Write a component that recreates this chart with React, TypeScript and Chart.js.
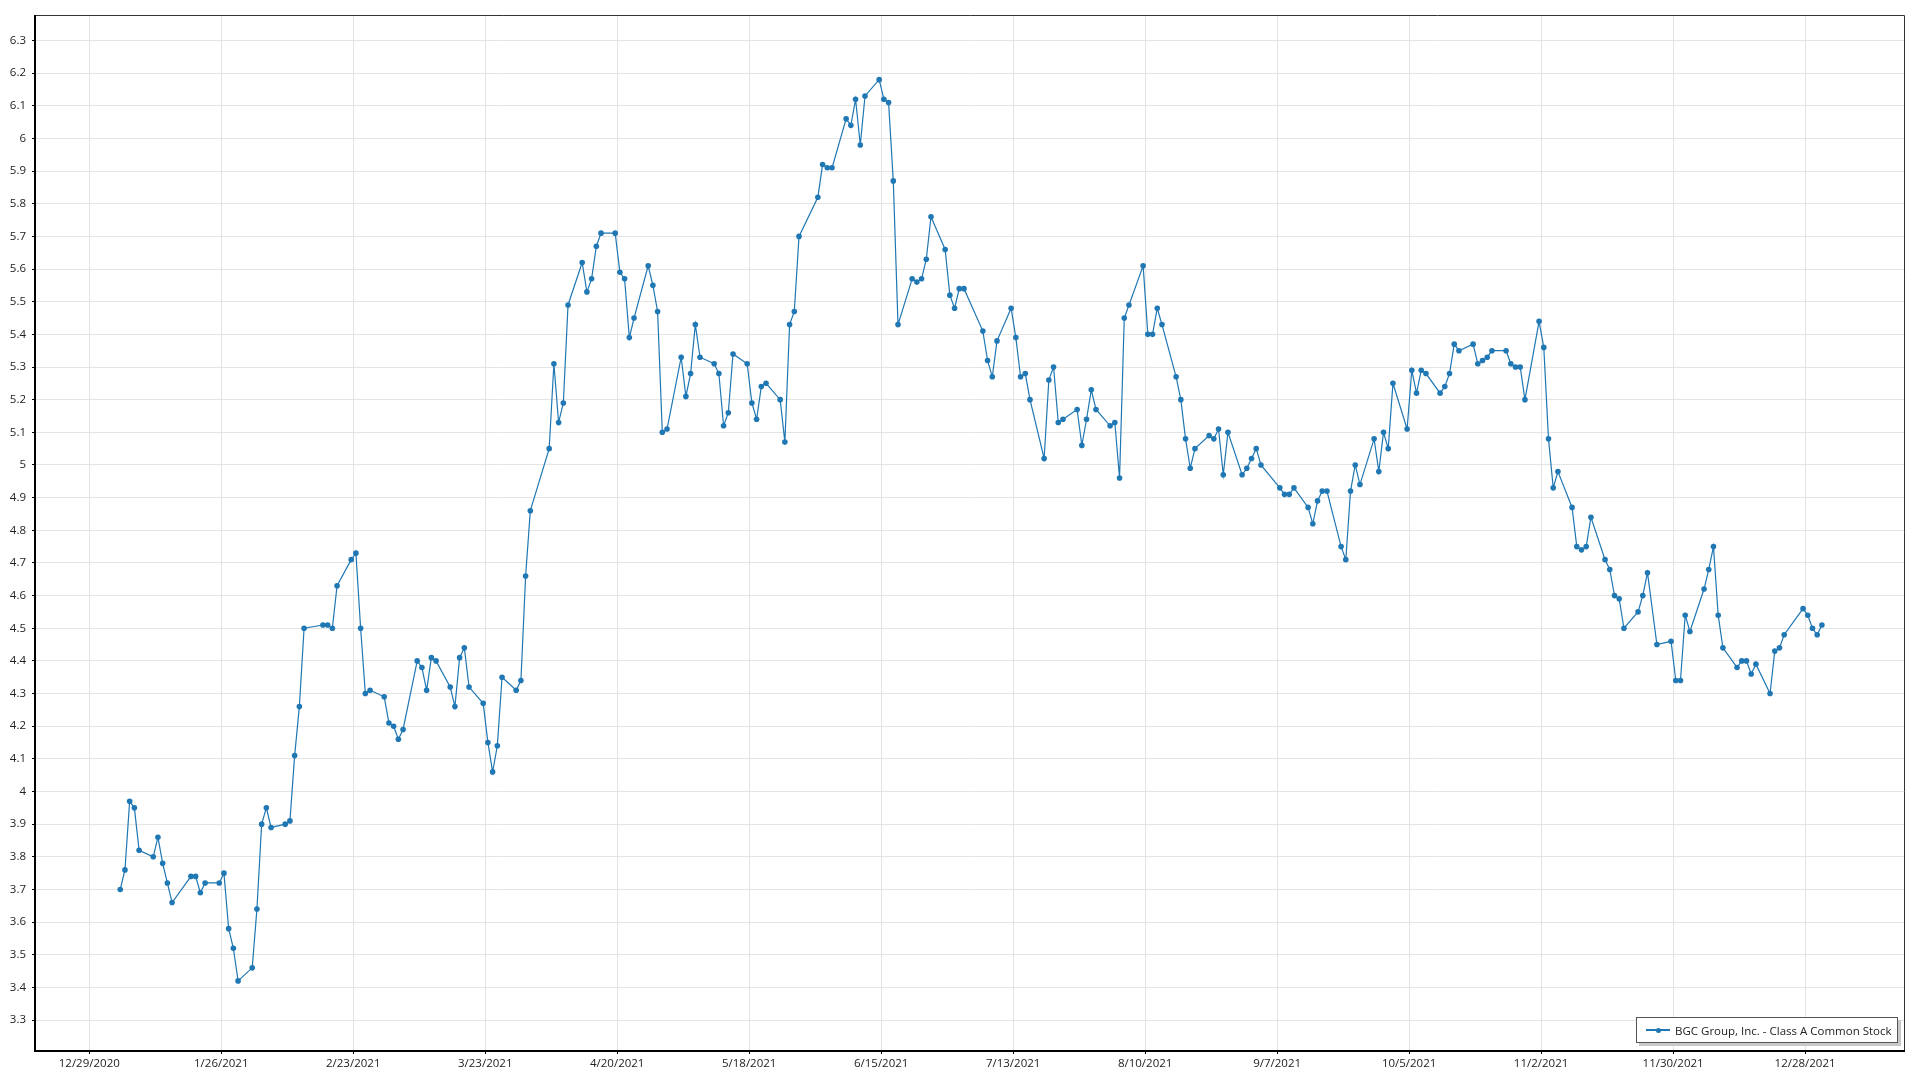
import React, { useEffect, useRef } from "react";
import { Chart, registerables } from "chart.js";

Chart.register(...registerables);

// Trading days of 2021 (day of month), per month
const janDays = [4, 5, 6, 7, 8, 11, 12, 13, 14, 15, 19, 20, 21, 22, 25, 26, 27, 28, 29];
const febDays = [1, 2, 3, 4, 5, 8, 9, 10, 11, 12, 16, 17, 18, 19, 22, 23, 24, 25, 26];
const marDays = [1, 2, 3, 4, 5, 8, 9, 10, 11, 12, 15, 16, 17, 18, 19, 22, 23, 24, 25, 26, 29, 30, 31];
const aprDays = [1, 5, 6, 7, 8, 9, 12, 13, 14, 15, 16, 19, 20, 21, 22, 23, 26, 27, 28, 29, 30];
const mayDays = [3, 4, 5, 6, 7, 10, 11, 12, 13, 14, 17, 18, 19, 20, 21, 24, 25, 26, 27, 28];
const junDays = [1, 2, 3, 4, 7, 8, 9, 10, 11, 14, 15, 16, 17, 18, 21, 22, 23, 24, 25, 28, 29, 30];
const julDays = [1, 2, 6, 7, 8, 9, 12, 13, 14, 15, 16, 19, 20, 21, 22, 23, 26, 27, 28, 29, 30];
const augDays = [2, 3, 4, 5, 6, 9, 10, 11, 12, 13, 16, 17, 18, 19, 20, 23, 24, 25, 26, 27, 30, 31];
const sepDays = [1, 2, 3, 7, 8, 9, 10, 13, 14, 15, 16, 17, 20, 21, 22, 23, 24, 27, 28, 29, 30];
const octDays = [1, 4, 5, 6, 7, 8, 11, 12, 13, 14, 15, 18, 19, 20, 21, 22, 25, 26, 27, 28, 29];
const novDays = [1, 2, 3, 4, 5, 8, 9, 10, 11, 12, 15, 16, 17, 18, 19, 22, 23, 24, 26, 29, 30];
const decDays = [1, 2, 3, 6, 7, 8, 9, 10, 13, 14, 15, 16, 17, 20, 21, 22, 23, 27, 28, 29, 30, 31];

// Closing prices, per month
const janClose = [3.70, 3.76, 3.97, 3.95, 3.82, 3.80, 3.86, 3.78, 3.72, 3.66, 3.74, 3.74, 3.69, 3.72, 3.72, 3.75, 3.58, 3.52, 3.42];
const febClose = [3.46, 3.64, 3.90, 3.95, 3.89, 3.90, 3.91, 4.11, 4.26, 4.50, 4.51, 4.51, 4.50, 4.63, 4.71, 4.73, 4.50, 4.30, 4.31];
const marClose = [4.29, 4.21, 4.20, 4.16, 4.19, 4.40, 4.38, 4.31, 4.41, 4.40, 4.32, 4.26, 4.41, 4.44, 4.32, 4.27, 4.15, 4.06, 4.14, 4.35, 4.31, 4.34, 4.66];
const aprClose = [4.86, 5.05, 5.31, 5.13, 5.19, 5.49, 5.62, 5.53, 5.57, 5.67, 5.71, 5.71, 5.59, 5.57, 5.39, 5.45, 5.61, 5.55, 5.47, 5.10, 5.11];
const mayClose = [5.33, 5.21, 5.28, 5.43, 5.33, 5.31, 5.28, 5.12, 5.16, 5.34, 5.31, 5.19, 5.14, 5.24, 5.25, 5.20, 5.07, 5.43, 5.47, 5.70];
const junClose = [5.82, 5.92, 5.91, 5.91, 6.06, 6.04, 6.12, 5.98, 6.13, 6.18, 6.12, 6.11, 5.87, 5.43, 5.57, 5.56, 5.57, 5.63, 5.76, 5.66, 5.52, 5.48];
const julClose = [5.54, 5.54, 5.41, 5.32, 5.27, 5.38, 5.48, 5.39, 5.27, 5.28, 5.20, 5.02, 5.26, 5.30, 5.13, 5.14, 5.17, 5.06, 5.14, 5.23, 5.17];
const augClose = [5.12, 5.13, 4.96, 5.45, 5.49, 5.61, 5.40, 5.40, 5.48, 5.43, 5.27, 5.20, 5.08, 4.99, 5.05, 5.09, 5.08, 5.11, 4.97, 5.10, 4.97, 4.99];
const sepClose = [5.02, 5.05, 5.00, 4.93, 4.91, 4.91, 4.93, 4.87, 4.82, 4.89, 4.92, 4.92, 4.75, 4.71, 4.92, 5.00, 4.94, 5.08, 4.98, 5.10, 5.05];
const octClose = [5.25, 5.11, 5.29, 5.22, 5.29, 5.28, 5.22, 5.24, 5.28, 5.37, 5.35, 5.37, 5.31, 5.32, 5.33, 5.35, 5.35, 5.31, 5.30, 5.30, 5.20];
const novClose = [5.44, 5.36, 5.08, 4.93, 4.98, 4.87, 4.75, 4.74, 4.75, 4.84, 4.71, 4.68, 4.60, 4.59, 4.50, 4.55, 4.60, 4.67, 4.45, 4.46, 4.34];
const decClose = [4.34, 4.54, 4.49, 4.62, 4.68, 4.75, 4.54, 4.44, 4.38, 4.40, 4.40, 4.36, 4.39, 4.30, 4.43, 4.44, 4.48, 4.56, 4.54, 4.50, 4.48, 4.51];

const xTickLabels = [
  "12/29/2020", "1/26/2021", "2/23/2021", "3/23/2021", "4/20/2021", "5/18/2021", "6/15/2021",
  "7/13/2021", "8/10/2021", "9/7/2021", "10/5/2021", "11/2/2021", "11/30/2021", "12/28/2021",
];
const yTickLabels = [
  "3.3", "3.4", "3.5", "3.6", "3.7", "3.8", "3.9", "4", "4.1", "4.2", "4.3", "4.4", "4.5", "4.6", "4.7", "4.8",
  "4.9", "5", "5.1", "5.2", "5.3", "5.4", "5.5", "5.6", "5.7", "5.8", "5.9", "6", "6.1", "6.2", "6.3",
];
const seriesName = "BGC Group, Inc. - Class A Common Stock";

const ORIGIN = Date.UTC(2020, 11, 29);
const DAY = 86400000;
const POINT_OFFSET = 0.57; // points sit slightly after midnight on the time axis
const dayOf = (y: number, m: number, d: number) => (Date.UTC(y, m, d) - ORIGIN) / DAY;

const monthDays = [janDays, febDays, marDays, aprDays, mayDays, junDays, julDays, augDays, sepDays, octDays, novDays, decDays];
const monthCloses = [janClose, febClose, marClose, aprClose, mayClose, junClose, julClose, augClose, sepClose, octClose, novClose, decClose];

const points: { x: number; y: number }[] = [];
monthDays.forEach((days, mi) =>
  days.forEach((d, k) => points.push({ x: dayOf(2021, mi, d) + POINT_OFFSET, y: monthCloses[mi][k] }))
);

const xTickValues = xTickLabels.map((s) => {
  const [m, d, y] = s.split("/").map(Number);
  return dayOf(y, m - 1, d);
});
const yTickValues = yTickLabels.map(Number);

const BLUE = "#1f77b4";
const FONT = "'Open Sans', 'Noto Sans', sans-serif";

const framePlugin = {
  id: "frame",
  afterDraw(chart: any) {
    const { ctx, chartArea: a } = chart;
    const y = chart.scales.y;
    ctx.save();
    // minor ticks on y axis
    ctx.strokeStyle = "#000";
    ctx.lineWidth = 1;
    ctx.beginPath();
    for (let v = 321; v <= 637; v++) {
      const py = Math.round(y.getPixelForValue(v / 100)) + 0.5;
      ctx.moveTo(a.left - 2, py);
      ctx.lineTo(a.left, py);
    }
    ctx.stroke();
    // top and right border
    ctx.strokeStyle = "#333";
    ctx.lineWidth = 1;
    ctx.beginPath();
    ctx.moveTo(a.left, a.top + 0.5);
    ctx.lineTo(a.right - 0.5, a.top + 0.5);
    ctx.lineTo(a.right - 0.5, a.bottom);
    ctx.stroke();
    // left and bottom axis lines
    ctx.strokeStyle = "#000";
    ctx.lineWidth = 2;
    ctx.beginPath();
    ctx.moveTo(a.left - 1, a.top);
    ctx.lineTo(a.left - 1, a.bottom + 1);
    ctx.lineTo(a.right, a.bottom + 1);
    ctx.stroke();
    ctx.restore();
  },
};

export default function App() {
  const ref = useRef<HTMLCanvasElement | null>(null);

  useEffect(() => {
    if (!ref.current) return;
    const chart = new Chart(ref.current, {
      type: "line",
      data: {
        datasets: [
          {
            label: seriesName,
            data: points,
            borderColor: BLUE,
            backgroundColor: BLUE,
            borderWidth: 1.2,
            pointRadius: 2.8,
            pointHoverRadius: 2.8,
            pointBorderWidth: 0,
            pointBackgroundColor: BLUE,
            tension: 0,
          },
        ],
      },
      options: {
        animation: false,
        responsive: false,
        parsing: false,
        layout: { padding: { top: 15, right: 15, left: 0, bottom: 0 } },
        plugins: { legend: { display: false }, tooltip: { enabled: false } },
        scales: {
          x: {
            type: "linear",
            min: -11.3,
            max: 385.2,
            afterBuildTicks: (s: any) => {
              s.ticks = xTickValues.map((v) => ({ value: v }));
            },
            afterFit: (s: any) => {
              s.height = 30;
            },
            ticks: {
              callback: (_v: any, i: number) => xTickLabels[i],
              font: { family: FONT, size: 11.5 },
              color: "#222",
              padding: 3,
              maxRotation: 0,
              autoSkip: false,
            },
            grid: { color: "#e4e4e4", tickColor: "#000", tickLength: 4, lineWidth: 1 },
            border: { display: false },
          },
          y: {
            type: "linear",
            min: 3.2084,
            max: 6.378,
            afterBuildTicks: (s: any) => {
              s.ticks = yTickValues.map((v) => ({ value: v }));
            },
            afterFit: (s: any) => {
              s.width = 36;
            },
            ticks: {
              callback: (_v: any, i: number) => yTickLabels[i],
              font: { family: FONT, size: 11.5 },
              color: "#222",
              padding: 6,
              autoSkip: false,
            },
            grid: { color: "#e4e4e4", tickColor: "#000", tickLength: 4, lineWidth: 1 },
            border: { display: false },
          },
        },
      },
      plugins: [framePlugin],
    });
    return () => chart.destroy();
  }, []);

  return (
    <div style={{ position: "absolute", left: 0, top: 0, width: 1920, height: 1080, background: "#fff" }}>
      <canvas ref={ref} width={1920} height={1080} style={{ display: "block" }} />
      <div
        style={{
          position: "absolute",
          left: 1636,
          top: 1017,
          width: 262,
          height: 26,
          boxSizing: "border-box",
          border: "1px solid #555",
          background: "#fff",
          boxShadow: "3px 3px 0 #c8c8c8",
          display: "flex",
          alignItems: "center",
          fontFamily: FONT,
          fontSize: 11.5,
          color: "#222",
          whiteSpace: "nowrap",
        }}
      >
        <span style={{ position: "relative", width: 24, height: 10, marginLeft: 9, marginRight: 5, flex: "none" }}>
          <span style={{ position: "absolute", left: 0, top: 4, width: 24, height: 1.5, background: BLUE }} />
          <span
            style={{ position: "absolute", left: 9.5, top: 2.5, width: 5, height: 5, borderRadius: "50%", background: BLUE }}
          />
        </span>
        <span>{seriesName}</span>
      </div>
    </div>
  );
}
